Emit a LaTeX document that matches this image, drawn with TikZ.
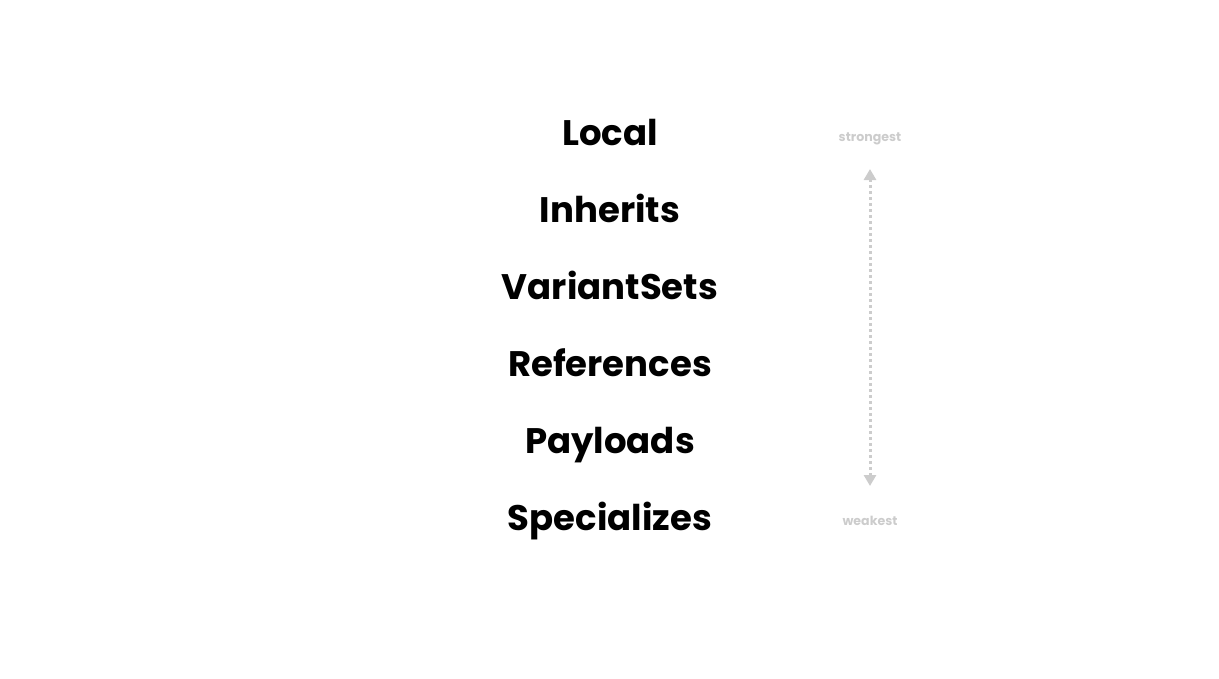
\documentclass[tikz,border=0pt]{standalone}
\usepackage{fontspec}
\setmainfont{Poppins}
\usetikzlibrary{arrows.meta}
\definecolor{lightgray}{RGB}{204,204,204}
\begin{document}
\begin{tikzpicture}[x=1pt,y=-1pt,
  item/.style={font=\fontsize{35.5}{38}\selectfont\bfseries, text=black, anchor=base, inner sep=0},
  endlabel/.style={font=\fontsize{12.6}{14}\selectfont\bfseries, text=lightgray, anchor=base, inner sep=0},
  scale arrow/.style={draw=lightgray, line width=3pt, dash pattern=on 3pt off 3pt, {Triangle[length=11pt,width=12pt]}-{Triangle[length=11pt,width=12pt]}}]
\useasboundingbox (0,0) rectangle (1219,678);
\node[item] (local) at (610,145) {Local};
\node[item] (inherits) at (610,222) {Inherits};
\node[item] (variantsets) at (610,299) {VariantSets};
\node[item] (references) at (610,376) {References};
\node[item] (payloads) at (610,453) {Payloads};
\node[item] (specializes) at (610,530) {Specializes};
\node[endlabel] (strongest) at (870,141) {strongest};
\node[endlabel] (weakest) at (870,525) {weakest};
\coordinate (top) at (870,169);
\coordinate (bot) at (870,486);
\draw[scale arrow] (top) -- (bot);
\end{tikzpicture}
\end{document}
